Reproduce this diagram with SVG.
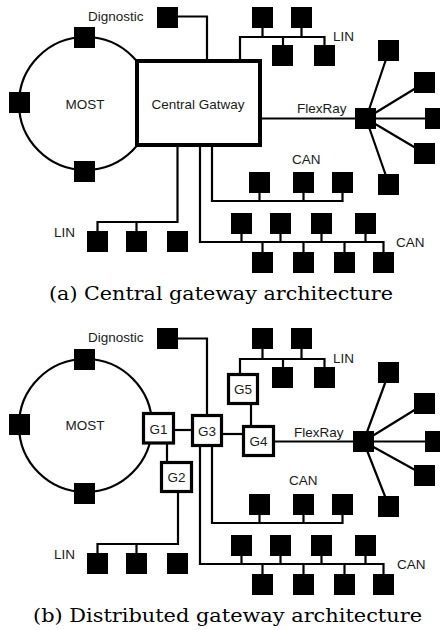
<svg xmlns="http://www.w3.org/2000/svg" width="440" height="630" viewBox="0 0 440 630">
<style>
.ln{fill:none;stroke:#000;stroke-width:2.2;stroke-linejoin:miter;stroke-linecap:butt}
.ring{fill:none;stroke:#000;stroke-width:2.2}
.ecu{fill:#000}
.gw{fill:#fff;stroke:#000;stroke-width:4}
.gs{fill:#fff;stroke:#000;stroke-width:3.2}
.lb{font-family:"Liberation Sans",Arial,sans-serif;font-size:13.5px;fill:#1a1a1a}
.gt{font-family:"Liberation Sans",Arial,sans-serif;font-size:13.5px;fill:#1a1a1a;text-anchor:middle}
.cap{font-family:"DejaVu Serif","Liberation Serif",serif;font-size:18px;fill:#000}
</style>
<defs>
<rect id="e" class="ecu" width="21" height="21"/>
</defs>

<!-- ================= (a) Central gateway ================= -->
<g id="a-connectors">
<circle class="ring" cx="85.5" cy="103.5" r="66.5"/>
<path class="ln" d="M178,16.5 H207 V61"/>
<path class="ln" d="M240,61 V37 H324.5 V45 M262.5,27 V37 M301.5,27 V37 M283,37 V45"/>
<path class="ln" d="M260,118.5 H356"/>
<path class="ln" d="M366,118.5 L389,50.5 M366,118.5 L425,82.5 M366,118.5 L436,118.5 M366,118.5 L425,153.5 M366,118.5 L389,184.5"/>
<path class="ln" d="M177.5,145 V222 H97.5 V231 M136.5,222 V231"/>
<path class="ln" d="M212,145 V201 H342.5 V193 M259.5,193 V201 M303.5,193 V201"/>
<path class="ln" d="M200,145 V242 H383.5 V252 M241.5,234 V242 M280.5,234 V242 M321.5,234 V242 M365.5,234 V242 M262.5,242 V252 M303.5,242 V252 M344.5,242 V252"/>
</g>

<g id="a-most">
<use href="#e" x="74" y="27"/>
<use href="#e" x="9" y="92"/>
<use href="#e" x="74" y="161"/>
<text class="gt" x="85" y="109">MOST</text>
</g>
<g id="a-gateway">
<rect class="gw" x="137" y="61" width="123" height="84"/>
<text class="gt" x="198" y="109">Central Gatway</text>
</g>
<g id="a-diag">
<use href="#e" x="157" y="7"/>
<text class="lb" x="88" y="20.5">Dignostic</text>
</g>
<g id="a-lin-top">
<use href="#e" x="252" y="7"/>
<use href="#e" x="291" y="7"/>
<use href="#e" x="272" y="45"/>
<use href="#e" x="314" y="45"/>
<text class="lb" x="333" y="41">LIN</text>
</g>
<g id="a-flexray">
<use href="#e" x="355" y="108"/>
<use href="#e" x="378" y="40"/>
<use href="#e" x="414" y="72"/>
<use href="#e" x="425" y="108"/>
<use href="#e" x="414" y="143"/>
<use href="#e" x="378" y="174"/>
<text class="lb" x="297" y="113">FlexRay</text>
</g>
<g id="a-can1">
<use href="#e" x="249" y="172"/>
<use href="#e" x="293" y="172"/>
<use href="#e" x="332" y="172"/>
<text class="lb" x="292" y="164">CAN</text>
</g>
<g id="a-can2">
<use href="#e" x="231" y="213"/>
<use href="#e" x="270" y="213"/>
<use href="#e" x="311" y="213"/>
<use href="#e" x="355" y="213"/>
<use href="#e" x="252" y="252"/>
<use href="#e" x="293" y="252"/>
<use href="#e" x="334" y="252"/>
<use href="#e" x="373" y="252"/>
<text class="lb" x="396" y="246.5">CAN</text>
</g>
<g id="a-lin-bottom">
<use href="#e" x="87" y="231"/>
<use href="#e" x="126" y="231"/>
<use href="#e" x="167" y="231"/>
<text class="lb" x="54" y="237">LIN</text>
</g>
<text class="cap" x="49" y="300" textLength="344" lengthAdjust="spacingAndGlyphs">(a) Central gateway architecture</text>

<!-- ================= (b) Distributed gateway ================= -->
<g id="b-connectors">
<circle class="ring" cx="85.5" cy="425.5" r="66.5"/>
<path class="ln" d="M178,338.5 H207 V416"/>
<path class="ln" d="M174,430 H193"/>
<path class="ln" d="M167,443 V463"/>
<path class="ln" d="M222,434 H244"/>
<path class="ln" d="M251,404 V427"/>
<path class="ln" d="M240,375 V359 H324.5 V367 M262.5,349 V359 M301.5,349 V359 M283,359 V367"/>
<path class="ln" d="M273,441.5 H354"/>
<path class="ln" d="M363.5,441.5 L389,372.5 M363.5,441.5 L425,403.5 M363.5,441.5 L436,441.5 M363.5,441.5 L425,475.5 M363.5,441.5 L389,506.5"/>
<path class="ln" d="M178,491 V544 H97.5 V553 M136.5,544 V553"/>
<path class="ln" d="M212,445 V523 H342.5 V515 M259.5,515 V523 M303.5,515 V523"/>
<path class="ln" d="M200,445 V564 H383.5 V574 M241.5,556 V564 M280.5,556 V564 M321.5,556 V564 M365.5,556 V564 M262.5,564 V574 M303.5,564 V574 M344.5,564 V574"/>
</g>

<g id="b-most">
<use href="#e" x="74" y="349"/>
<use href="#e" x="9" y="414"/>
<use href="#e" x="74" y="483"/>
<text class="gt" x="85" y="430">MOST</text>
</g>
<g id="b-g1">
<rect class="gs" x="143.5" y="413.5" width="30" height="29.5"/>
<text class="gt" x="158.5" y="434">G1</text>
</g>
<g id="b-g2">
<rect class="gs" x="161.5" y="462.5" width="30" height="29"/>
<text class="gt" x="176.5" y="482">G2</text>
</g>
<g id="b-g3">
<rect class="gs" x="192.5" y="415.5" width="29" height="30"/>
<text class="gt" x="207" y="436">G3</text>
</g>
<g id="b-g4">
<rect class="gs" x="243.5" y="426.5" width="30" height="29"/>
<text class="gt" x="258.5" y="446">G4</text>
</g>
<g id="b-g5">
<rect class="gs" x="228.5" y="374.5" width="29" height="29"/>
<text class="gt" x="243" y="394">G5</text>
</g>
<g id="b-diag">
<use href="#e" x="157" y="328"/>
<text class="lb" x="88" y="342">Dignostic</text>
</g>
<g id="b-lin-top">
<use href="#e" x="252" y="328"/>
<use href="#e" x="291" y="328"/>
<use href="#e" x="272" y="367"/>
<use href="#e" x="314" y="367"/>
<text class="lb" x="333" y="363">LIN</text>
</g>
<g id="b-flexray">
<use href="#e" x="353" y="431"/>
<use href="#e" x="378" y="362"/>
<use href="#e" x="414" y="393"/>
<use href="#e" x="425" y="431"/>
<use href="#e" x="414" y="465"/>
<use href="#e" x="378" y="496"/>
<text class="lb" x="294" y="437">FlexRay</text>
</g>
<g id="b-can1">
<use href="#e" x="249" y="494"/>
<use href="#e" x="293" y="494"/>
<use href="#e" x="332" y="494"/>
<text class="lb" x="289" y="485">CAN</text>
</g>
<g id="b-can2">
<use href="#e" x="231" y="535"/>
<use href="#e" x="270" y="535"/>
<use href="#e" x="311" y="535"/>
<use href="#e" x="355" y="535"/>
<use href="#e" x="252" y="574"/>
<use href="#e" x="293" y="574"/>
<use href="#e" x="334" y="574"/>
<use href="#e" x="373" y="574"/>
<text class="lb" x="397" y="569">CAN</text>
</g>
<g id="b-lin-bottom">
<use href="#e" x="87" y="553"/>
<use href="#e" x="126" y="553"/>
<use href="#e" x="167" y="553"/>
<text class="lb" x="54" y="559">LIN</text>
</g>
<text class="cap" x="33" y="622" textLength="389" lengthAdjust="spacingAndGlyphs">(b) Distributed gateway architecture</text>
</svg>
